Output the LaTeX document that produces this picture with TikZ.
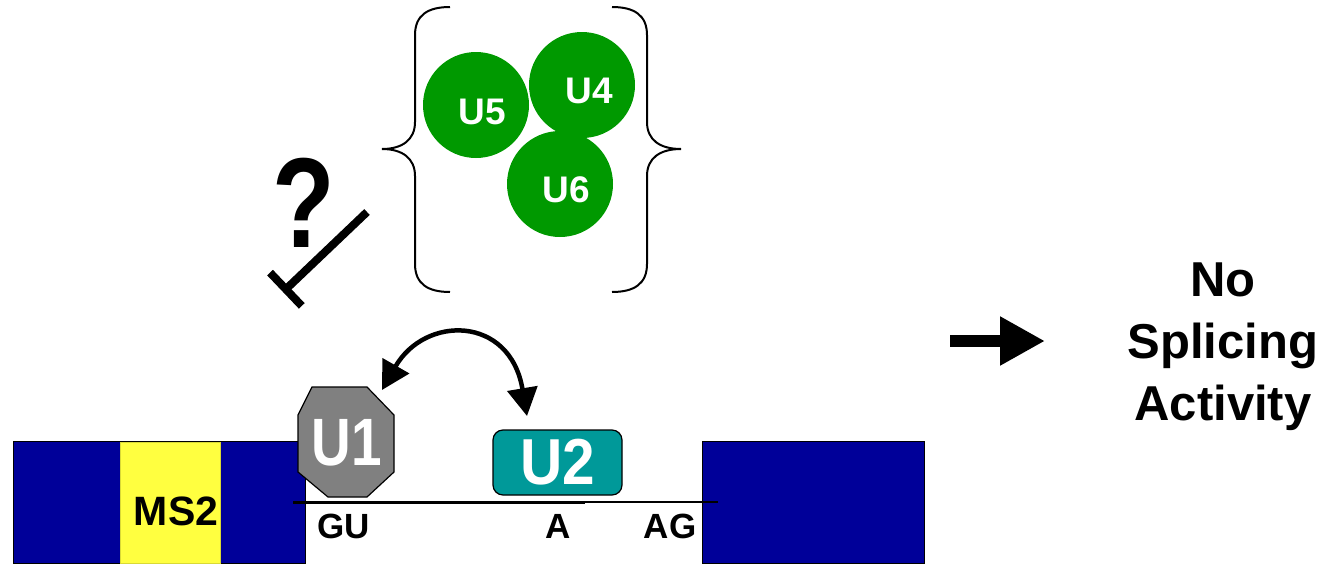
\documentclass[tikz,border=0pt]{standalone}
\usepackage{fontspec}
\setmainfont{Liberation Sans}
\usetikzlibrary{arrows.meta}
\definecolor{exonblue}{HTML}{000099}
\definecolor{ms2yellow}{HTML}{FFFF40}
\definecolor{u1gray}{HTML}{808080}
\definecolor{u2teal}{HTML}{009999}
\definecolor{snrgreen}{HTML}{009900}
\tikzset{
  exon/.style={draw=black, line width=1.2pt, fill=exonblue, inner sep=0pt, anchor=north west,
               minimum height=122pt},
  ms2box/.style={fill=ms2yellow, draw=ms2yellow!85!black, line width=0.6pt, inner sep=0pt,
               anchor=north west, minimum width=100pt, minimum height=121pt},
  snrp/.style={circle, fill=snrgreen, inner sep=0pt, minimum size=106pt},
  snrtxt/.style={text=white, font=\bfseries\fontsize{37}{40}\selectfont, inner sep=0pt},
  sitelbl/.style={font=\bfseries\fontsize{35}{40}\selectfont, anchor=base, inner sep=0pt},
  octa/.style={fill=u1gray, draw=black, line width=1.2pt},
  u2box/.style={draw=black, line width=1.2pt, fill=u2teal, rounded corners=10pt,
               minimum width=129pt, minimum height=65pt, inner sep=0pt,
               text=white, font=\bfseries\fontsize{65}{70}\selectfont},
  brace/.style={line width=2pt},
  swap/.style={line width=4.5pt, {Triangle[length=28pt,width=30pt]}-{Triangle[length=28pt,width=30pt]}},
  inhibit/.style={line width=8pt, -{Bar[width=46pt]}},
  bigarrow/.style={line width=12pt, -{Triangle[length=45pt,width=46pt]}},
}
\begin{document}
\begin{tikzpicture}[x=1pt, y=-1pt]
\useasboundingbox (0,0) rectangle (1336,565);

% exons
\node[exon, minimum width=292pt] (ex1) at (13,441) {};
\node[ms2box] (ms2) at (120,441.5) {};
\node[font=\bfseries\fontsize{41}{45}\selectfont, anchor=base, inner sep=0pt] (ms2t) at (176,525) {MS2};
\node[exon, minimum width=222pt] (ex2) at (702,441) {};

% U1 octagon
\draw[octa] (312,387) -- (367,387) -- (394,415) -- (394,472) -- (367,497) -- (328,497) -- (298,472) -- (298,415) -- cycle;
\node[text=white, font=\bfseries\fontsize{67}{70}\selectfont, inner sep=0pt] (u1) at (347,442.5) {\scalebox{0.82}[1]{U1}};

% U2
\node[u2box] (u2) at (557.5,462.5) {\scalebox{0.9}[1]{U2}};

% intron line
\coordinate (ss5) at (293,502);
\coordinate (bp) at (585,502);
\coordinate (ss3) at (718,502);
\draw[line width=3pt] (ss5) -- (bp);
\draw[line width=2pt] (bp) -- (ss3);

% site labels
\node[sitelbl] (gu) at (343.5,538) {GU};
\node[sitelbl] (a) at (558,538) {A};
\node[sitelbl] (ag) at (670,538) {AG};

% exchange arrow
\coordinate (u1tip) at (382,390);
\coordinate (u2tip) at (527,416);
\draw[swap] (u1tip) .. controls (425,315) and (510,315) .. (u2tip);

% tri-snRNP
\node[snrp] (u5) at (476,105) {};
\node[snrp] (u4) at (582,85) {};
\node[snrp] (u6) at (560,184) {};
\node[snrtxt] (u5t) at (482.5,111.5) {U5};
\node[snrtxt] (u4t) at (589,90.5) {U4};
\node[snrtxt] (u6t) at (566,190) {U6};

% braces
\draw[brace] (450,7) .. controls (428,7) and (415,15) .. (415,35) -- (415,122)
  .. controls (415,140) and (402,149) .. (382,149)
  .. controls (402,149) and (415,158) .. (415,176) -- (415,264)
  .. controls (415,284) and (428,292) .. (450,292);
\draw[brace] (612,7) .. controls (634,7) and (647,15) .. (647,35) -- (647,122)
  .. controls (647,140) and (660,149) .. (681,149)
  .. controls (660,149) and (647,158) .. (647,176) -- (647,264)
  .. controls (647,284) and (634,292) .. (612,292);

% question and inhibition
\node[font=\bfseries\fontsize{128}{130}\selectfont, anchor=base, inner sep=0pt] (q) at (303.5,247) {\scalebox{0.8}[1]{?}};
\coordinate (inhA) at (367,212);
\coordinate (inhB) at (283,292);
\draw[inhibit] (inhA) -- (inhB);

% result
\coordinate (arrA) at (950,341);
\coordinate (arrB) at (1045,341);
\draw[bigarrow] (arrA) -- (arrB);
\node[align=center, font=\bfseries\fontsize{49}{62}\selectfont, anchor=north, inner sep=0pt] (res) at (1223,263) {No\\Splicing\\Activity};
\end{tikzpicture}
\end{document}
